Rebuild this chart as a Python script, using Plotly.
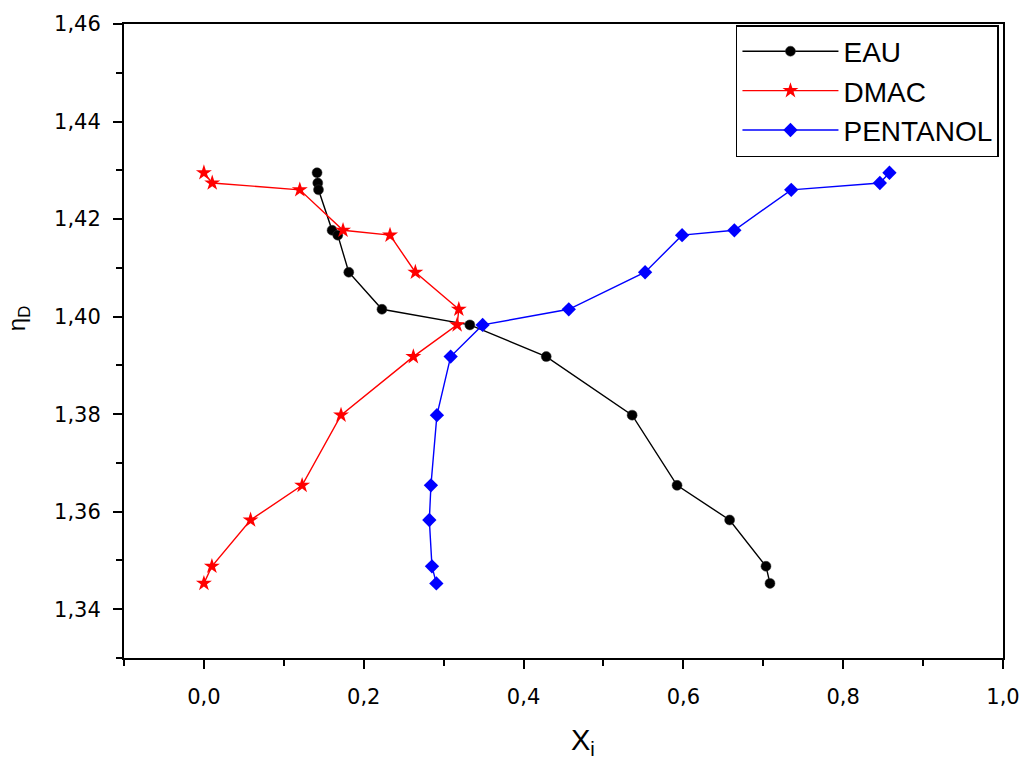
import plotly.graph_objects as go

# Refractive index levels (shared by the three series)
eta_d = [1.4295, 1.4274, 1.4260, 1.4177, 1.4167, 1.4091, 1.4015,
         1.3983, 1.3918, 1.3798, 1.3654, 1.3583, 1.3488, 1.3453]

x_eau = [0.1416, 0.1425, 0.1434, 0.1604, 0.1675, 0.1813, 0.2228,
         0.3328, 0.4284, 0.5359, 0.5921, 0.6579, 0.7034, 0.7084]
x_dmac = [0.0, 0.0104, 0.1200, 0.1741, 0.2329, 0.2646, 0.3190,
          0.3169, 0.2621, 0.1716, 0.1229, 0.0584, 0.0100, 0.0]
x_pent = [0.8579, 0.8459, 0.7350, 0.6638, 0.5984, 0.5521, 0.4566,
          0.3488, 0.3088, 0.2916, 0.2841, 0.2821, 0.2854, 0.2909]

series_names = ["EAU", "DMAC", "PENTANOL"]
x_title = "X<sub>i</sub>"
y_title = "η<sub>D</sub>"

FONT = "Liberation Sans, Arial, sans-serif"
TICKFONT = "DejaVu Sans, sans-serif"

fig = go.Figure()
fig.add_trace(go.Scatter(
    x=x_eau, y=eta_d, name=series_names[0], mode="lines+markers",
    line=dict(color="black", width=1.4),
    marker=dict(symbol="circle", size=10, color="black",
                line=dict(color="#333333", width=0.5))))
fig.add_trace(go.Scatter(
    x=x_dmac, y=eta_d, name=series_names[1], mode="lines+markers",
    line=dict(color="#FF0000", width=1.4),
    marker=dict(symbol="star", size=12, color="#FF0000", line=dict(width=0))))
fig.add_trace(go.Scatter(
    x=x_pent, y=eta_d, name=series_names[2], mode="lines+markers",
    line=dict(color="#0000FF", width=1.4),
    marker=dict(symbol="diamond", size=11, color="#0000FF", line=dict(width=0))))

fig.update_layout(
    width=1028, height=767,
    margin=dict(l=124, r=25, t=24, b=109, autoexpand=False),
    paper_bgcolor="white", plot_bgcolor="white",
    separators=",.",
    font=dict(family=FONT, color="black", size=20),
    showlegend=True,
    legend=dict(
        x=0.9954, y=0.9984, xanchor="right", yanchor="top",
        bgcolor="white", bordercolor="black", borderwidth=1.5,
        font=dict(family=FONT, size=28, color="black"),
        itemwidth=96, tracegroupgap=0,
        entrywidth=175, entrywidthmode="pixels",
    ),
    xaxis=dict(
        range=[-0.1, 1.0], tick0=0, dtick=0.2, tickformat=".1f",
        automargin=False,
        showgrid=False, zeroline=False,
        showline=True, linecolor="black", linewidth=2, mirror=True,
        ticks="outside", ticklen=9, tickwidth=2, tickcolor="black",
        minor=dict(ticks="outside", ticklen=6, tickwidth=2, dtick=0.1,
                   tick0=0, tickcolor="black", showgrid=False),
        tickfont=dict(family=TICKFONT, size=21),
        ticklabelstandoff=10,
    ),
    yaxis=dict(
        range=[1.33, 1.46], tick0=1.34, dtick=0.02, tickformat=".2f",
        automargin=False,
        showgrid=False, zeroline=False,
        showline=True, linecolor="black", linewidth=2, mirror=True,
        ticks="outside", ticklen=9, tickwidth=2, tickcolor="black",
        minor=dict(ticks="outside", ticklen=6, tickwidth=2, dtick=0.01,
                   tick0=1.33, tickcolor="black", showgrid=False),
        tickfont=dict(family=TICKFONT, size=21),
        ticklabelstandoff=8,
    ),
    annotations=[
        dict(text=x_title, xref="paper", yref="paper", x=0.522, y=-0.1325,
             xanchor="center", yanchor="middle", showarrow=False,
             font=dict(family=FONT, size=29, color="black")),
        dict(text=y_title, xref="paper", yref="paper", x=-0.1206, y=0.536,
             xanchor="center", yanchor="middle", showarrow=False, textangle=-90,
             font=dict(family=FONT, size=24, color="black")),
    ],
)

fig.write_html(
    "out.html", config={"displayModeBar": False, "responsive": False},
    post_script=("document.body.style.margin='0';"
                 "document.body.style.overflow='hidden';"
                 "document.documentElement.style.overflow='hidden';"))
